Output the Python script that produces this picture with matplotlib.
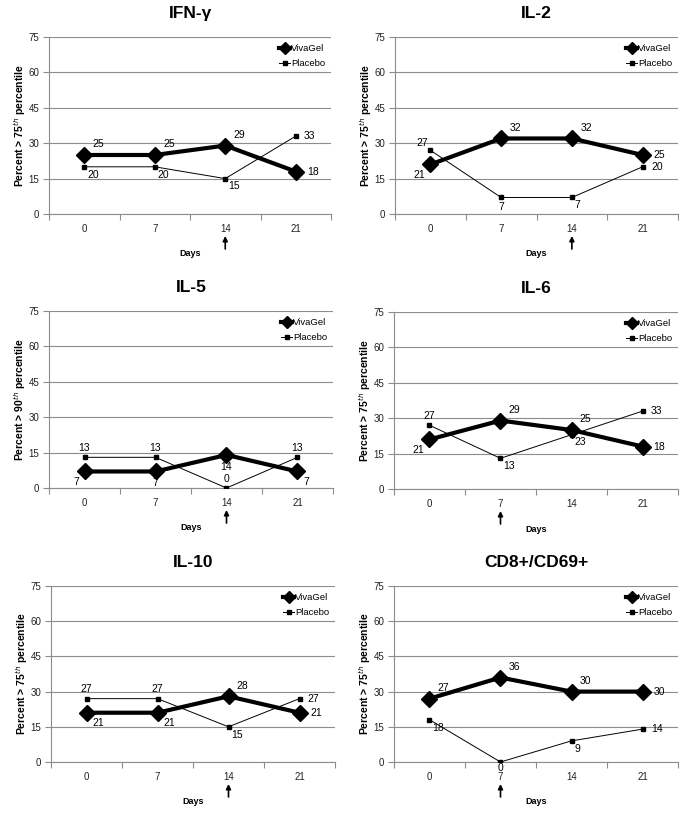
import matplotlib
matplotlib.use("Agg")
import matplotlib.pyplot as plt
from matplotlib.lines import Line2D

plt.rcParams['font.family'] = ['Liberation Sans', 'DejaVu Sans']

W, H = 686, 814
DPI = 100

days = ["0", "7", "14", "21"]
titles = ["IFN-γ", "IL-2", "IL-5", "IL-6", "IL-10", "CD8+/CD69+"]
ylabels = ["Percent > 75$^{th}$ percentile", "Percent > 75$^{th}$ percentile",
           "Percent > 90$^{th}$ percentile", "Percent > 75$^{th}$ percentile",
           "Percent > 75$^{th}$ percentile", "Percent > 75$^{th}$ percentile"]
vivagel = [
    [25, 25, 29, 18],
    [21, 32, 32, 25],
    [7, 7, 14, 7],
    [21, 29, 25, 18],
    [21, 21, 28, 21],
    [27, 36, 30, 30],
]
placebo = [
    [20, 20, 15, 33],
    [27, 7, 7, 20],
    [13, 13, 0, 13],
    [27, 13, 23, 33],
    [27, 27, 15, 27],
    [18, 0, 9, 14],
]
arrow_day = [2, 2, 2, 1, 2, 1]
yticks = [0, 15, 30, 45, 60, 75]

# label placement codes
viv_pos = [
    ['ur', 'ur', 'ur', 'r'],
    ['ll', 'ur', 'ur', 'r'],
    ['ll', 'b', 'b', 'lr'],
    ['ll', 'ur', 'ur', 'r'],
    ['lr', 'lr', 'ur', 'r'],
    ['ur', 'ur', 'ur', 'r'],
]
pla_pos = [
    ['lr', 'lr', 'lr', 'r'],
    ['ul', 'b', 'lr', 'r'],
    ['a', 'a', 'a', 'a'],
    ['a', 'lr', 'lr', 'r'],
    ['a', 'a', 'lr', 'r'],
    ['lr', 'b0', 'lr', 'r'],
]
POS = {
    'ur': (4, 2, 'left', 'bottom'),
    'r': (6, 0, 'left', 'center'),
    'lr': (2, -2, 'left', 'top'),
    'll': (-2, -2, 'right', 'top'),
    'ul': (-2, 2, 'right', 'bottom'),
    'a': (0, 3, 'center', 'bottom'),
    'b': (0, -3, 'center', 'top'),
    'b0': (0, -0.5, 'center', 'top'),
}

# axes boxes in pixels: left, bottom, right, top
boxes = [
    (49, 214, 331, 37),
    (395, 214, 678, 37),
    (49, 488, 333, 311),
    (394, 489, 678, 312),
    (51, 762, 335, 586),
    (394, 762, 678, 586),
]

fig = plt.figure(figsize=(W / DPI, H / DPI), dpi=DPI)
fig.patch.set_facecolor('white')


def off(code, extra):
    dx, dy, ha, va = POS[code]
    sx = (1 if dx > 0 else -1 if dx < 0 else 0)
    sy = (1 if dy > 0 else -1 if dy < 0 else 0)
    return dx + sx * extra, dy + sy * extra, ha, va


grid_c = '#8c8c8c'
for i in range(6):
    l, b, r, t = boxes[i]
    ax = fig.add_axes([l / W, 1 - b / H, (r - l) / W, (b - t) / H])
    axh = b - t
    axw = r - l
    x = list(range(len(days)))
    ax.set_xlim(-0.5, len(days) - 0.5)
    ax.set_ylim(0, 75)
    ax.set_yticks(yticks)
    ax.yaxis.grid(True, color=grid_c, linewidth=0.8)
    ax.set_axisbelow(True)
    for s in ['top', 'right']:
        ax.spines[s].set_visible(False)
    ax.spines['left'].set_color(grid_c)
    ax.spines['bottom'].set_color(grid_c)
    ax.spines['left'].set_linewidth(0.8)
    ax.spines['bottom'].set_linewidth(0.8)
    ax.set_xticks(x)
    ax.set_xticklabels(days)
    ax.tick_params(axis='x', length=0, labelsize=7, colors='#222222', pad=7.5)
    ax.set_xticks([k - 0.5 for k in range(len(days) + 1)], minor=True)
    ax.tick_params(axis='x', which='minor', length=4, color=grid_c, width=0.8)
    ax.tick_params(axis='y', length=4, color=grid_c, width=0.8, labelsize=7,
                   labelcolor='#222222', pad=3)

    ax.plot(x, placebo[i], color='black', linewidth=0.7, marker='s', markersize=3,
            label='Placebo', zorder=3)
    ax.plot(x, vivagel[i], color='black', linewidth=3, marker='D', markersize=8,
            label='VivaGel', zorder=4)

    for k in range(len(days)):
        dx, dy, ha, va = off(viv_pos[i][k], 2)
        ax.annotate(str(vivagel[i][k]), (x[k], vivagel[i][k]), xytext=(dx, dy),
                    textcoords='offset points', ha=ha, va=va, fontsize=7.5, zorder=5)
        dx, dy, ha, va = off(pla_pos[i][k], 0)
        ax.annotate(str(placebo[i][k]), (x[k], placebo[i][k]), xytext=(dx, dy),
                    textcoords='offset points', ha=ha, va=va, fontsize=7.5, zorder=5)

    handles = [Line2D([], [], color='black', linewidth=3, marker='D', markersize=6),
               Line2D([], [], color='black', linewidth=0.7, marker='s', markersize=2.5)]
    ax.legend(handles, ['VivaGel', 'Placebo'], loc='upper right', frameon=False,
              fontsize=6.8, handlelength=1.2, handletextpad=0.1, labelspacing=0.6,
              borderaxespad=0.2, bbox_to_anchor=(1.0, 0.99))

    ax.set_title(titles[i], fontsize=12.5, fontweight='bold', pad=14)
    ax.text(-29 / axw, 0.5, ylabels[i], transform=ax.transAxes, rotation=90,
            ha='center', va='center', fontsize=7.5, fontweight='bold')
    ax.text(0.5, -40 / axh, 'Days', transform=ax.transAxes, ha='center',
            va='center', fontsize=6.5, fontweight='bold')
    ax.annotate('', xy=(arrow_day[i], -22 / axh), xytext=(arrow_day[i], -35 / axh),
                xycoords=('data', 'axes fraction'), textcoords=('data', 'axes fraction'),
                arrowprops=dict(arrowstyle='-|>', color='black', lw=1.2,
                                mutation_scale=7, shrinkA=0, shrinkB=0),
                annotation_clip=False)

fig.savefig('out.png', dpi=DPI, facecolor='white')
